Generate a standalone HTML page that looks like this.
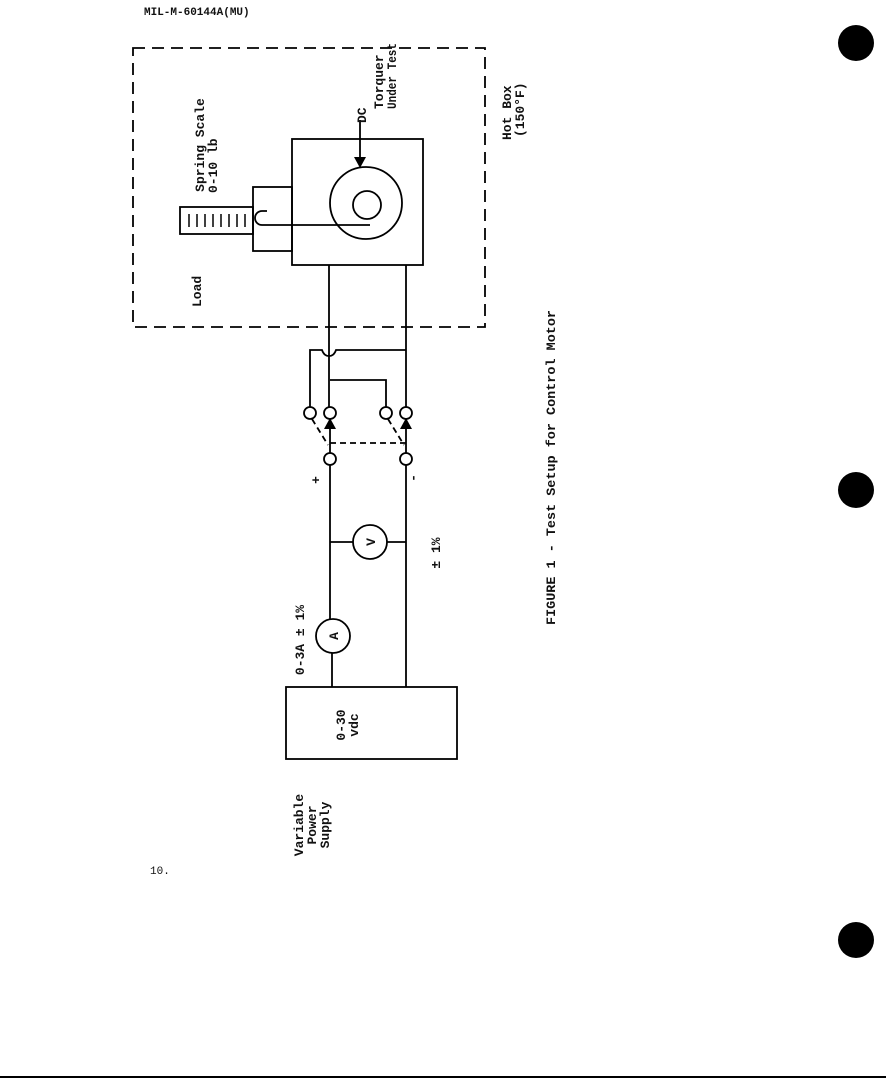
<!DOCTYPE html>
<html><head><style>
html,body{margin:0;padding:0;background:#fff;}
svg{display:block;}
text{font-family:"Liberation Mono",monospace;font-weight:bold;fill:#111;}
</style></head><body>
<svg width="886" height="1079" viewBox="0 0 886 1079" xmlns="http://www.w3.org/2000/svg">
<text x="144" y="15" font-size="11">MIL-M-60144A(MU)</text>
<circle cx="856" cy="43" r="18" fill="#000"/>
<circle cx="856" cy="490" r="18" fill="#000"/>
<circle cx="856" cy="940" r="18" fill="#000"/>
<line x1="0" y1="1077" x2="886" y2="1077" stroke="#000" stroke-width="2"/>
<text x="150" y="874" font-size="11" style="font-weight:normal">10.</text>

<g stroke="#000" stroke-width="1.8" fill="none">
<rect x="133" y="48" width="352" height="279" stroke-dasharray="12,7"/>
<rect x="292" y="139" width="131" height="126"/>
<circle cx="366" cy="203" r="36"/>
<circle cx="367" cy="205" r="14"/>
<rect x="253" y="187" width="39" height="64"/>
<rect x="180" y="207" width="73" height="27"/>
<path d="M189 214v13M197 214v13M205 214v13M213 214v13M221 214v13M229 214v13M237 214v13M245 214v13" stroke-width="1.5"/>
<path d="M267 211h-5a7 7 0 0 0 0 14h108"/>
<line x1="360" y1="120" x2="360" y2="160"/>
<line x1="329" y1="265" x2="329" y2="407"/>
<line x1="406" y1="265" x2="406" y2="407"/>
<path d="M310 407V350h12q2 6 7 6t7-6h70"/>
<path d="M330 380h56v27"/>
<circle cx="310" cy="413" r="6" fill="#fff"/>
<circle cx="330" cy="413" r="6" fill="#fff"/>
<circle cx="386" cy="413" r="6" fill="#fff"/>
<circle cx="406" cy="413" r="6" fill="#fff"/>
<line x1="330" y1="419" x2="330" y2="453"/>
<line x1="406" y1="419" x2="406" y2="453"/>
<path d="M312 419l16 26M388 419l16 26M330 443h76" stroke-dasharray="6,4"/>
<circle cx="330" cy="459" r="6" fill="#fff"/>
<circle cx="406" cy="459" r="6" fill="#fff"/>
<line x1="330" y1="465" x2="330" y2="619"/>
<line x1="406" y1="465" x2="406" y2="687"/>
<line x1="330" y1="542" x2="353" y2="542"/>
<line x1="387" y1="542" x2="406" y2="542"/>
<circle cx="370" cy="542" r="17"/>
<circle cx="333" cy="636" r="17"/>
<line x1="332" y1="653" x2="332" y2="687"/>
<rect x="286" y="687" width="171" height="72"/>
</g>
<polygon points="354,157 366,157 360,168" fill="#000"/>
<polygon points="324,429 336,429 330,418" fill="#000"/>
<polygon points="400,429 412,429 406,418" fill="#000"/>

<g font-size="13">
<text transform="translate(375,542) rotate(-90)" text-anchor="middle">V</text>
<text transform="translate(338,636) rotate(-90)" text-anchor="middle">A</text>
<text transform="translate(204,145) rotate(-90)" text-anchor="middle">Spring Scale</text>
<text transform="translate(217,193) rotate(-90)">0-10 lb</text>
<text transform="translate(201,307) rotate(-90)">Load</text>
<text transform="translate(366,123) rotate(-90)">DC</text>
<text transform="translate(383,109) rotate(-90)">Torquer</text>
<text transform="translate(396,109) rotate(-90)" textLength="66" lengthAdjust="spacingAndGlyphs">Under Test</text>
<text transform="translate(511,140) rotate(-90)">Hot Box</text>
<text transform="translate(524,137) rotate(-90)">(150°F)</text>
<text transform="translate(555,625) rotate(-90)" textLength="315" lengthAdjust="spacingAndGlyphs">FIGURE 1 - Test Setup for Control Motor</text>
<text transform="translate(304,640) rotate(-90)" text-anchor="middle">0-3A ± 1%</text>
<text transform="translate(440,553) rotate(-90)" text-anchor="middle">± 1%</text>
<text transform="translate(320,480) rotate(-90)" text-anchor="middle">+</text>
<text transform="translate(417,478) rotate(-90)" text-anchor="middle">-</text>
<text transform="translate(345,725) rotate(-90)" text-anchor="middle">0-30</text>
<text transform="translate(358,725) rotate(-90)" text-anchor="middle">vdc</text>
<text transform="translate(303,825) rotate(-90)" text-anchor="middle">Variable</text>
<text transform="translate(316,825) rotate(-90)" text-anchor="middle">Power</text>
<text transform="translate(329,825) rotate(-90)" text-anchor="middle">Supply</text>
</g>
</svg>
</body></html>
